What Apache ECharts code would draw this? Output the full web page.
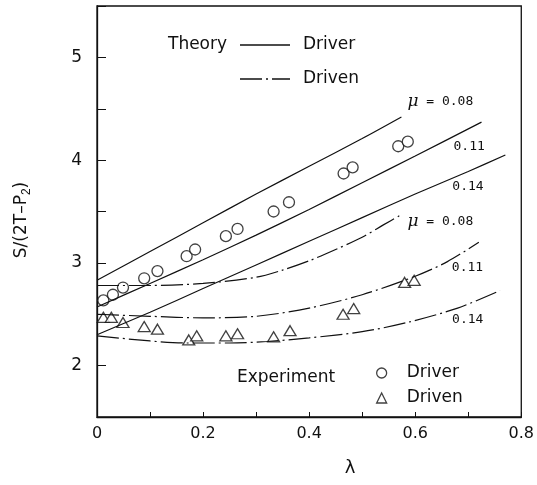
<!DOCTYPE html>
<html>
<head>
<meta charset="utf-8">
<script src="https://cdn.jsdelivr.net/npm/echarts@6/dist/echarts.min.js"></script>
<style>
html, body { margin: 0; padding: 0; background: #fff; }
#chart { width: 537px; height: 485px; }
</style>
</head>
<body>
<div id="chart"></div>
<script>
// theory, driver pulley (solid lines)
const driver008Lambda = [0, 0.1, 0.2, 0.3, 0.4, 0.5, 0.574]
const driver008S = [2.83, 3.11, 3.39, 3.67, 3.94, 4.21, 4.42]
const driver011Lambda = [0, 0.1, 0.2, 0.3, 0.4, 0.5, 0.6, 0.725]
const driver011S = [2.57, 2.80, 3.03, 3.27, 3.52, 3.78, 4.04, 4.37]
const driver014Lambda = [0, 0.1, 0.2, 0.3, 0.4, 0.5, 0.6, 0.7, 0.77]
const driver014S = [2.30, 2.52, 2.75, 2.98, 3.21, 3.44, 3.67, 3.89, 4.05]

// theory, driven pulley (dash-dot lines)
const driven008Lambda = [0, 0.1, 0.2, 0.3, 0.35, 0.4, 0.45, 0.5, 0.54, 0.574]
const driven008S = [2.78, 2.78, 2.80, 2.86, 2.93, 3.02, 3.13, 3.25, 3.37, 3.47]
const driven011Lambda = [0, 0.1, 0.2, 0.3, 0.4, 0.5, 0.6, 0.66, 0.72]
const driven011S = [2.50, 2.48, 2.465, 2.48, 2.56, 2.69, 2.87, 3.01, 3.20]
const driven014Lambda = [0, 0.1, 0.17, 0.25, 0.32, 0.4, 0.5, 0.585, 0.68, 0.76]
const driven014S = [2.29, 2.24, 2.22, 2.22, 2.235, 2.27, 2.33, 2.42, 2.56, 2.73]

// experiment
const circleLambda = [0.012, 0.03, 0.049, 0.089, 0.114, 0.169, 0.185, 0.243, 0.265, 0.333, 0.362, 0.465, 0.482, 0.568, 0.586]
const circleS = [2.635, 2.69, 2.76, 2.85, 2.92, 3.065, 3.13, 3.26, 3.33, 3.50, 3.59, 3.87, 3.93, 4.135, 4.18]
const triangleLambda = [0.012, 0.027, 0.049, 0.089, 0.114, 0.173, 0.188, 0.243, 0.265, 0.333, 0.364, 0.464, 0.484, 0.58, 0.598]
const triangleS = [2.47, 2.47, 2.42, 2.38, 2.355, 2.25, 2.29, 2.29, 2.31, 2.28, 2.34, 2.50, 2.555, 2.81, 2.83]

const ink = '#111'
const dashDot = [22, 4, 2, 4]
const labelFont = { fontFamily: 'DejaVu Sans Mono', fontSize: 13, color: ink }

const pairs = (xs, ys) => xs.map((x, i) => [x, ys[i]])

function curve(name, xs, ys, dashed, text, offset) {
	return {
		name: name,
		type: 'line',
		data: pairs(xs, ys),
		smooth: 0.3,
		showSymbol: false,
		silent: true,
		lineStyle: { color: ink, width: 1.2, type: dashed ? dashDot : 'solid' },
		endLabel: {
			show: true,
			formatter: text,
			distance: 0,
			offset: offset,
			align: 'left',
			verticalAlign: 'middle',
			...labelFont,
			rich: { mu: { fontFamily: 'DejaVu Serif', fontStyle: 'italic', fontSize: 17, color: ink } }
		}
	}
}

const myChart = echarts.init(document.getElementById('chart'))
myChart.setOption({
	animation: false,
	grid: { left: 97, right: 8, top: 6, bottom: 68, show: true, borderColor: ink, borderWidth: 1.3 },
	xAxis: {
		type: 'value', min: 0, max: 0.8, interval: 0.1,
		axisLine: { lineStyle: { color: ink, width: 1.3 } },
		axisTick: { inside: true, length: 5, lineStyle: { color: ink } },
		splitLine: { show: false },
		axisLabel: {
			margin: 9, fontFamily: 'DejaVu Sans', fontSize: 16, color: ink,
			formatter: v => (Math.round(v * 10) % 2 === 0 ? String(Math.round(v * 10) / 10) : '')
		}
	},
	yAxis: {
		type: 'value', min: 1.5, max: 5.5, interval: 0.5,
		axisLine: { lineStyle: { color: ink, width: 1.3 } },
		axisTick: { inside: true, length: 9, lineStyle: { color: ink } },
		splitLine: { show: false },
		axisLabel: {
			margin: 15, fontFamily: 'DejaVu Sans', fontSize: 17, color: ink,
			formatter: v => (Number.isInteger(v) ? String(v) : '')
		}
	},
	legend: {
		data: [
			{ name: 'Driver', icon: 'circle', itemStyle: { color: '#fff', borderColor: ink, borderWidth: 1.3 } },
			{ name: 'Driven', icon: 'triangle', itemStyle: { color: '#fff', borderColor: ink, borderWidth: 1.3 } }
		],
		orient: 'vertical', left: 371, top: 358,
		itemWidth: 10, itemHeight: 10, itemGap: 5,
		textStyle: { fontFamily: 'DejaVu Sans', fontSize: 17, color: ink, lineHeight: 20, padding: [0, 0, 0, 15] }
	},
	graphic: [
		{ type: 'text', x: 22, y: 220, rotation: Math.PI / 2,
			style: { text: 'S/(2T–P{s|2})', font: '17px DejaVu Sans', fill: ink, align: 'center', verticalAlign: 'middle',
				rich: { s: { fontSize: 12, verticalAlign: 'bottom', padding: [10, 0, 0, 0] } } } },
		{ type: 'text', x: 350, y: 468, style: { text: 'λ', font: '18px DejaVu Sans', fill: ink, align: 'center', verticalAlign: 'middle' } },
		{ type: 'text', x: 168, y: 45, style: { text: 'Theory', font: '17px DejaVu Sans', fill: ink, verticalAlign: 'middle' } },
		{ type: 'line', shape: { x1: 240, y1: 45, x2: 290, y2: 45 }, style: { stroke: ink, lineWidth: 1.3 } },
		{ type: 'text', x: 303, y: 45, style: { text: 'Driver', font: '17px DejaVu Sans', fill: ink, verticalAlign: 'middle' } },
		{ type: 'line', shape: { x1: 240, y1: 79, x2: 290, y2: 79 }, style: { stroke: ink, lineWidth: 1.3, lineDash: dashDot } },
		{ type: 'text', x: 303, y: 79, style: { text: 'Driven', font: '17px DejaVu Sans', fill: ink, verticalAlign: 'middle' } },
		{ type: 'text', x: 237, y: 378, style: { text: 'Experiment', font: '17px DejaVu Sans', fill: ink, verticalAlign: 'middle' } }
	],
	series: [
		curve('driver 0.08', driver008Lambda, driver008S, false, '{mu|μ} = 0.08', [6, -15]),
		curve('driver 0.11', driver011Lambda, driver011S, false, '0.11', [-28, 25]),
		curve('driver 0.14', driver014Lambda, driver014S, false, '0.14', [-53, 32]),
		curve('driven 0.08', driven008Lambda, driven008S, true, '{mu|μ} = 0.08', [6, 7]),
		curve('driven 0.11', driven011Lambda, driven011S, true, '0.11', [-27, 25]),
		curve('driven 0.14', driven014Lambda, driven014S, true, '0.14', [-48, 29]),
		{
			name: 'Driver', type: 'scatter', data: pairs(circleLambda, circleS),
			symbol: 'circle', symbolSize: 11,
			itemStyle: { color: '#fff', borderColor: ink, borderWidth: 1.3 }
		},
		{
			name: 'Driven', type: 'scatter', data: pairs(triangleLambda, triangleS),
			symbol: 'triangle', symbolSize: [12, 10],
			itemStyle: { color: '#fff', borderColor: ink, borderWidth: 1.3 }
		}
	]
})
</script>
</body>
</html>
